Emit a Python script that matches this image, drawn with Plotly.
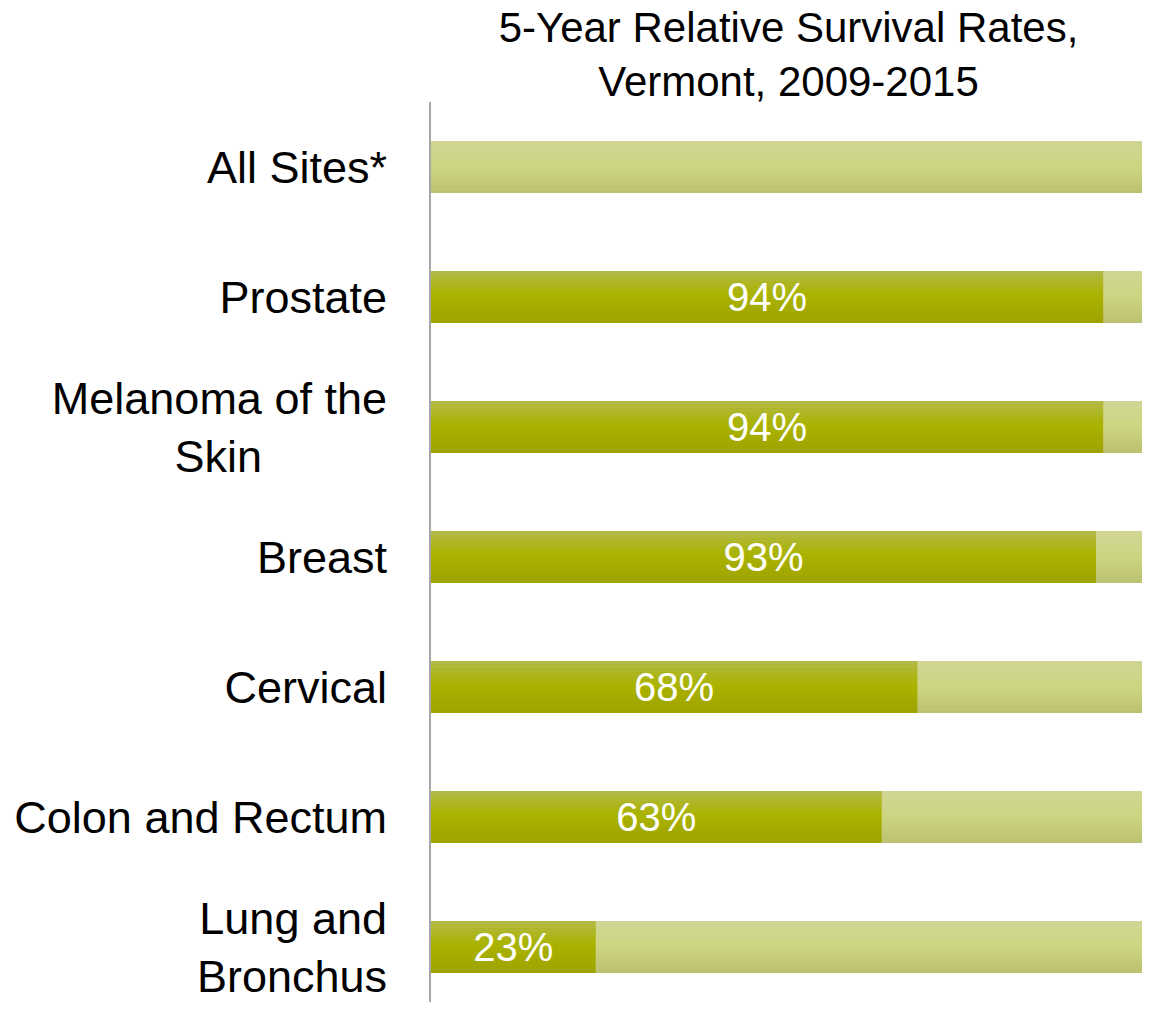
import plotly.graph_objects as go

# ---- data ----
categories = ["All Sites*", "Prostate", "Melanoma of the Skin", "Breast",
              "Cervical", "Colon and Rectum", "Lung and Bronchus"]
tick_labels = ["All Sites*", "Prostate", "Melanoma of the<br>Skin" + "\u00a0" * 10, "Breast",
               "Cervical", "Colon and Rectum", "Lung and<br>Bronchus"]
survival = [None, 94, 94, 93, 68, 63, 23]
totals = [100, 100, 100, 100, 100, 100, 100]
labels = [("" if v is None else f"{v}%") for v in survival]

title_text = "5-Year Relative Survival Rates,<br>Vermont, 2009-2015"

# ---- style ----
FONT = "Liberation Sans, Arial"
BAR_W = 0.4
N_STRIPS = 14
dark_stops = [(0.0, (0xB3, 0xB9, 0x4C)), (0.45, (0xAA, 0xB3, 0x00)), (1.0, (0x9E, 0xA3, 0x00))]
light_stops = [(0.0, (0xD1, 0xD5, 0x96)), (0.5, (0xCD, 0xD5, 0x80)), (1.0, (0xBA, 0xC0, 0x70))]

FIG_W, FIG_H = 1142, 994
M_L, M_R, M_T, M_B = 423, 4, 94, 0
BAND_PX = 130
plot_h = FIG_H - M_T - M_B
y_range = [-0.5 + plot_h / BAND_PX, -0.5]


def interp(stops, t):
    for (t0, c0), (t1, c1) in zip(stops[:-1], stops[1:]):
        if t0 <= t <= t1:
            f = (t - t0) / (t1 - t0) if t1 > t0 else 0
            return "rgb(%d,%d,%d)" % tuple(round(a + (b - a) * f) for a, b in zip(c0, c1))
    c = stops[-1][1]
    return "rgb(%d,%d,%d)" % c


fig = go.Figure()


def add_gradient_bar(values, stops):
    fig.add_trace(go.Bar(
        y=categories, x=values, orientation="h", width=BAR_W,
        marker=dict(color=interp(stops, 0.5), line=dict(width=0)),
        hoverinfo="skip", showlegend=False))
    sw = BAR_W / N_STRIPS
    for i in range(N_STRIPS):
        t = (i + 0.5) / N_STRIPS
        fig.add_trace(go.Bar(
            y=categories, x=values, orientation="h",
            width=sw * 1.02, offset=-BAR_W / 2 + i * sw,
            marker=dict(color=interp(stops, t), line=dict(width=0)),
            hoverinfo="skip", showlegend=False))


add_gradient_bar(totals, light_stops)
add_gradient_bar(survival, dark_stops)

fig.add_trace(go.Bar(
    y=categories, x=survival, orientation="h", width=BAR_W,
    marker=dict(color="rgba(0,0,0,0)", line=dict(width=0)),
    text=labels, textposition="inside", insidetextanchor="middle",
    textfont=dict(color="white", size=40, family=FONT),
    showlegend=False))

fig.update_layout(
    barmode="overlay",
    width=FIG_W, height=FIG_H,
    margin=dict(l=M_L, r=M_R, t=M_T, b=M_B, autoexpand=False),
    paper_bgcolor="white", plot_bgcolor="white",
    title=dict(text=title_text, x=0.5, xref="paper", xanchor="center",
               y=0.966, yanchor="top",
               font=dict(size=42, color="black", family=FONT)),
    xaxis=dict(range=[0, 100], visible=False, fixedrange=True),
    yaxis=dict(range=y_range, showline=True, linecolor="#a6a6a6", linewidth=2,
               ticks="", showgrid=False, zeroline=False, automargin=False,
               tickmode="array", tickvals=categories, ticktext=tick_labels,
               tickfont=dict(size=45, color="black", family=FONT),
               ticklabelstandoff=33),
    uniformtext=dict(minsize=10, mode="show"),
)

fig.write_html("out.html")
